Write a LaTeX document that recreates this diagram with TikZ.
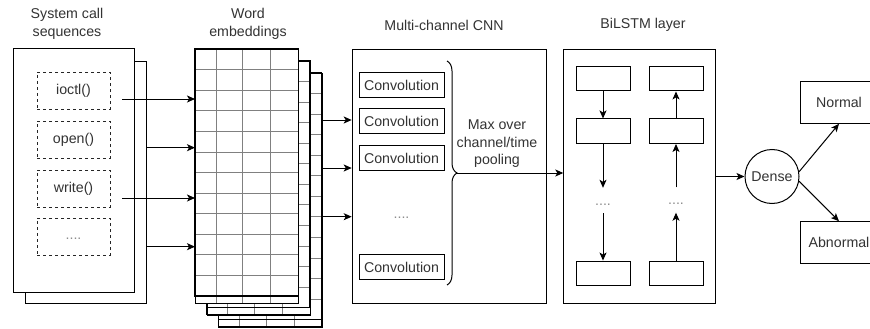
\documentclass[tikz,border=0pt]{standalone}
\usepackage{fontspec}
\setmainfont{Liberation Sans}
\usetikzlibrary{arrows.meta,decorations.pathreplacing,calc}
\newcommand\welayer[3]{%
  \node[draw=black, line width=1pt, fill=white, inner sep=0pt, minimum width=103.3pt, minimum height=254pt, anchor=north west] (#1) at (#2,#3) {};
  \foreach \cx in {21,47.7,75.7} \draw[gridln] (#2+\cx,#3) -- (#2+\cx,#3+254);
  \foreach \ry in {1,...,11} \draw[gridln] (#2,#3+20.583*\ry) -- (#2+103.3,#3+20.583*\ry);
  \draw[line width=1pt] (#2,#3) rectangle (#2+103.3,#3+254);
  \draw[line width=1.3pt] (#2,#3) rectangle (#2+103.3,#3+247);
}
\begin{document}
\begin{tikzpicture}[x=1pt,y=-1pt,
  font=\fontsize{14.2}{17.5}\selectfont, text=black!80,
  box/.style={draw=black, line width=1pt, fill=white, inner sep=0pt},
  dbox/.style={draw=black!85, line width=0.9pt, dash pattern=on 3pt off 3pt, inner sep=0pt, minimum width=73pt, minimum height=37pt},
  conv/.style={draw=black, line width=1pt, inner sep=0pt, minimum width=85pt, minimum height=24.5pt},
  cellbox/.style={draw=black, line width=1pt, inner sep=0pt, minimum width=54pt, minimum height=24.5pt},
  arr/.style={draw=black, line width=1pt, -{Stealth[length=8pt,width=7pt,inset=2pt]}},
  ttl/.style={align=center, inner sep=0pt},
  dotsty/.style={text=black!45, inner sep=0pt},
  lsdots/.style={text=black!45, inner sep=0pt, text height=17pt, text depth=8pt, anchor=base},
  gridln/.style={draw=black!50, line width=0.7pt},
]
\useasboundingbox (0,0) rectangle (870,329);
\fill[white] (0,0) rectangle (870,329);
\clip (0,0) rectangle (870,329);

% titles
\node[ttl] (t1) at (67,24) {System call\\sequences};
\node[ttl] (t2) at (248,24) {Word\\embeddings};
\node[ttl] (t3) at (444,25) {Multi-channel CNN};
\node[ttl] (t4) at (643,25) {BiLSTM layer};

% system call sequences
\node[box, minimum width=121pt, minimum height=242pt, anchor=north west] (sysback) at (25,61) {};
\node[box, minimum width=121.3pt, minimum height=244pt, anchor=north west] (sysfront) at (12.7,48) {};
\node[dbox] (ioctl) at (73.5,90.5) {ioctl()};
\node[dbox] (open) at (73.5,139.5) {open()};
\node[dbox] (write) at (73.5,188.5) {write()};
\node[dbox] (sdots) at (73.5,236.5) {\vphantom{Ag}\textcolor{black!45}{....}};

% word embeddings
\welayer{we3}{218.3}{72.7}
\welayer{we2}{206.7}{60.7}
\welayer{we1}{195}{49}

% arrows sys -> embeddings
\coordinate (a1) at ($(ioctl.east)+(12,8.5)$);
\coordinate (a2) at ($(open.center)+(0,8.2)$);
\coordinate (a3) at ($(write.east)+(12,9.5)$);
\coordinate (a4) at ($(sdots.center)+(0,10.2)$);
\draw[arr] (a1) -- (a1 -| we1.west);
\draw[arr] (a2 -| sysback.east) -- (a2 -| we1.west);
\draw[arr] (a3) -- (a3 -| we1.west);
\draw[arr] (a4 -| sysback.east) -- (a4 -| we1.west);

% CNN
\node[box, minimum width=194pt, minimum height=254pt, anchor=north west] (cnn) at (351.7,49) {};
\node[conv] (conv1) at (401.5,85) {Convolution};
\node[conv] (conv2) at (401.5,121) {Convolution};
\node[conv] (conv3) at (401.5,158) {Convolution};
\node[dotsty] (cdots) at (401.5,215) {\vphantom{Ag}....};
\node[conv] (conv5) at (401.5,267) {Convolution};
\draw[decorate, decoration={brace, amplitude=10pt}, line width=1pt] (447,61) -- (447,285);
\coordinate (brtip) at (457,173);
\node[align=center, inner sep=0pt] (maxt) at (497,144) {Max over\\channel/time\\pooling};

% arrows embeddings -> CNN
\coordinate (b1) at (330,120);
\coordinate (b2) at (330,168);
\coordinate (b3) at (330,216.7);
\draw[arr] (b1 -| we3.east) -- (b1 -| cnn.west);
\draw[arr] (b2 -| we3.east) -- (b2 -| cnn.west);
\draw[arr] (b3 -| we3.east) -- (b3 -| cnn.west);

% BiLSTM
\node[box, minimum width=151.7pt, minimum height=254pt, anchor=north west] (bil) at (563.3,49) {};
\draw[arr] (brtip) -- (brtip -| bil.west);
\node[cellbox] (L1) at (603,78.7) {};
\node[cellbox] (L2) at (603,131.2) {};
\node[cellbox] (L3) at (603,273.3) {};
\node[cellbox] (R1) at (676,78.7) {};
\node[cellbox] (R2) at (676,131.2) {};
\node[cellbox] (R3) at (676,273.3) {};
\node[lsdots] (Ld) at (603,205) {....};
\node[lsdots] (Rd) at (676,204.5) {....};
\draw[arr] (L1) -- (L2);
\draw[arr] (L2) -- (Ld.north);
\draw[arr] (Ld.south) -- (L3);
\draw[arr] (R3) -- (Rd.south);
\draw[arr] (Rd.north) -- (R2);
\draw[arr] (R2) -- (R1);

% Dense and outputs
\node[draw=black, circle, line width=1pt, minimum size=54pt, inner sep=0pt] (dense) at (772,176.5) {Dense};
\draw[arr] (dense.west -| bil.east) -- (dense.west);
\node[box, minimum width=78pt, minimum height=41.6pt] (normal) at (839,102.5) {Normal};
\node[box, minimum width=78pt, minimum height=41.6pt] (abnormal) at (839,242.5) {Abnormal};
\draw[arr] (dense.10) -- (normal.south);
\draw[arr] (dense.-10) -- (abnormal.north);
\end{tikzpicture}
\end{document}
